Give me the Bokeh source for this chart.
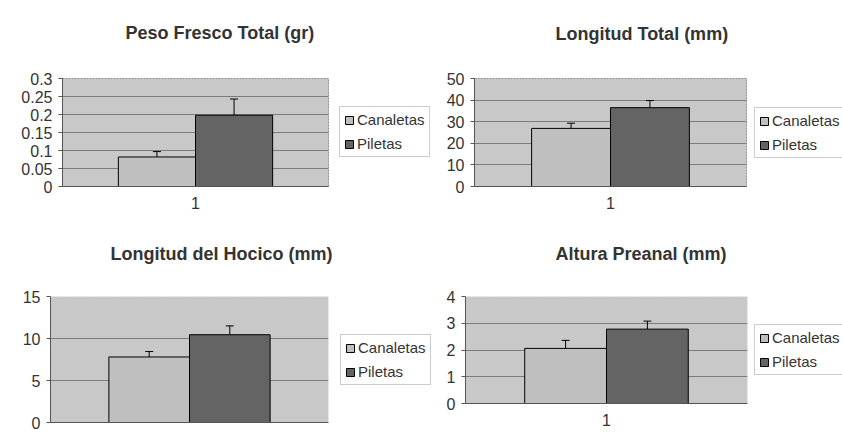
from bokeh.plotting import figure
from bokeh.models import (FixedTicker, Legend, LegendItem, Whisker, TeeHead,
                          ColumnDataSource, Range1d, Title, BoxAnnotation)
from bokeh.layouts import row, column
from bokeh.embed import file_html
from bokeh.resources import INLINE

# ---------------- data ----------------
series = ["Canaletas", "Piletas"]
category_labels = ["1"]

peso_title = "Peso Fresco Total (gr)"
peso_values = [0.082, 0.198]
peso_errors = [0.015, 0.045]
peso_ticks = [0, 0.05, 0.1, 0.15, 0.2, 0.25, 0.3]
peso_tick_labels = ["0", "0.05", "0.1", "0.15", "0.2", "0.25", "0.3"]

lt_title = "Longitud Total (mm)"
lt_values = [26.9, 36.5]
lt_errors = [2.4, 3.3]
lt_ticks = [0, 10, 20, 30, 40, 50]
lt_tick_labels = ["0", "10", "20", "30", "40", "50"]

lh_title = "Longitud del Hocico (mm)"
lh_values = [7.8, 10.45]
lh_errors = [0.65, 1.05]
lh_ticks = [0, 5, 10, 15]
lh_tick_labels = ["0", "5", "10", "15"]

ap_title = "Altura Preanal  (mm)"
ap_values = [2.06, 2.78]
ap_errors = [0.3, 0.3]
ap_ticks = [0, 1, 2, 3, 4]
ap_tick_labels = ["0", "1", "2", "3", "4"]

# ---------------- style ----------------
FONT = "Liberation Sans"
bar_colors = ["#bfbfbf", "#646464"]
plot_bg = "#c8c8c8"
grid_color = "#7c7c7c"
text_color = "#333333"
axis_color = "#555555"
bar_width = 0.29


def make_panel(title, values, errors, ticks, tick_labels, W, H, L, R, T, B,
               title_offset, title_gap, xlabel_standoff, show_xlabel=True,
               extra_bottom_px=0):
    frame_h = H - T - B
    data_px = frame_h - extra_bottom_px
    span = ticks[-1] - ticks[0]
    y0 = ticks[0] - span * extra_bottom_px / data_px
    p = figure(width=W, height=H, min_border_left=L, min_border_right=R,
               min_border_top=T, min_border_bottom=B,
               x_range=Range1d(0.5, 1.5), y_range=Range1d(y0, ticks[-1]),
               output_backend="svg", toolbar_location=None)
    p.border_fill_color = "white"
    if extra_bottom_px:
        # plot area only covers the value axis span; the rest is chart area
        p.background_fill_color = "white"
        p.outline_line_color = None
        p.add_layout(BoxAnnotation(bottom=ticks[0], top=ticks[-1],
                                   fill_color=plot_bg, fill_alpha=1,
                                   line_color="#8a8a8a", line_dash="2 1",
                                   line_width=1, level="image"))
    else:
        p.background_fill_color = plot_bg
        p.outline_line_color = "#8a8a8a"
        p.outline_line_dash = "2 1"

    # spacer between frame and title, title outermost
    p.add_layout(Title(text=" ", text_font_size="2px", standoff=title_gap), "above")
    p.title.text = title
    p.title.align = "left"
    p.title.vertical_align = "top"
    p.title.offset = title_offset
    p.title.standoff = 0
    p.title.text_font = FONT
    p.title.text_font_style = "bold"
    p.title.text_font_size = "18px"
    p.title.text_color = text_color

    # grids
    p.xgrid.visible = False
    p.ygrid.grid_line_color = grid_color
    p.ygrid.grid_line_width = 1

    # y axis
    yax = p.yaxis[0]
    yax.ticker = FixedTicker(ticks=ticks)
    yax.major_label_overrides = dict(zip(ticks, tick_labels))
    yax.bounds = (ticks[0], ticks[-1])
    yax.minor_tick_line_color = None
    yax.major_tick_in = 0
    yax.major_tick_out = 4
    yax.major_tick_line_color = axis_color
    yax.axis_line_color = axis_color
    yax.major_label_standoff = 6
    yax.major_label_text_font = FONT
    yax.major_label_text_font_size = "16px"
    yax.major_label_text_color = text_color

    # x axis
    xax = p.xaxis[0]
    if show_xlabel:
        xax.ticker = FixedTicker(ticks=[1])
        xax.major_label_overrides = {1: category_labels[0]}
    else:
        xax.ticker = FixedTicker(ticks=[])
    if extra_bottom_px:
        xax.fixed_location = ticks[0]
    xax.minor_tick_line_color = None
    xax.major_tick_line_color = None
    xax.axis_line_color = axis_color
    xax.major_label_standoff = xlabel_standoff
    xax.major_label_text_font = FONT
    xax.major_label_text_font_size = "16px"
    xax.major_label_text_color = text_color

    # bars + error bars
    offsets = [-bar_width / 2, bar_width / 2]
    for i, name in enumerate(series):
        src = ColumnDataSource(dict(x=[1 + offsets[i]], top=[values[i]],
                                    upper=[values[i] + errors[i]]))
        p.vbar(x="x", top="top", bottom=ticks[0], width=bar_width, source=src,
               fill_color=bar_colors[i], line_color="black", line_width=1)
        w = Whisker(base="x", lower="top", upper="upper", source=src,
                    lower_head=None,
                    upper_head=TeeHead(size=8, line_color="black", line_width=1),
                    line_color="black", line_width=1, level="annotation")
        p.add_layout(w)
    return p


def make_legend_fig(W, H, vx, vy):
    f = figure(width=W, height=H, x_axis_type=None, y_axis_type=None,
               x_range=Range1d(0, 1), y_range=Range1d(0, 1), min_border=0,
               output_backend="svg", toolbar_location=None)
    f.outline_line_color = None
    f.background_fill_color = "white"
    f.border_fill_color = "white"
    # legend swatch proxies, placed outside the visible range
    proxies = [f.vbar(x=[5], top=[0], bottom=[0], width=0.1,
                      fill_color=bar_colors[i], line_color="black", line_width=1)
               for i in range(len(series))]
    legend = Legend(items=[LegendItem(label=series[i], renderers=[proxies[i]])
                           for i in range(len(series))],
                    location=(vx, vy), margin=0, padding=4, spacing=7,
                    label_height=17, glyph_width=10, glyph_height=10,
                    label_standoff=3, label_text_font=FONT,
                    label_text_font_size="15px", label_text_color=text_color,
                    border_line_color="#9a9a9a", background_fill_color="white")
    f.add_layout(legend)
    return f


p1 = make_panel(peso_title, peso_values, peso_errors, peso_ticks, peso_tick_labels,
                332, 231, 62, 4, 78, 45, 63, 30, 4)
l1 = make_legend_fig(100, 231, 7, 29)
p2 = make_panel(lt_title, lt_values, lt_errors, lt_ticks, lt_tick_labels,
                318, 231, 42, 4, 78, 45, 81, 29, 4)
l2 = make_legend_fig(92, 231, 4, 28)
p3 = make_panel(lh_title, lh_values, lh_errors, lh_ticks, lh_tick_labels,
                332, 214, 50, 4, 65, 8, 60, 27, 4, show_xlabel=False,
                extra_bottom_px=15)
l3 = make_legend_fig(100, 214, 8, 52)
p4 = make_panel(ap_title, ap_values, ap_errors, ap_ticks, ap_tick_labels,
                319, 214, 33, 4, 65, 8, 90, 27, 4, extra_bottom_px=34)
l4 = make_legend_fig(91, 214, 3, 62)

layout = column(row(p1, l1, p2, l2), row(p3, l3, p4, l4))

open("out.html", "w").write(file_html(layout, INLINE))
